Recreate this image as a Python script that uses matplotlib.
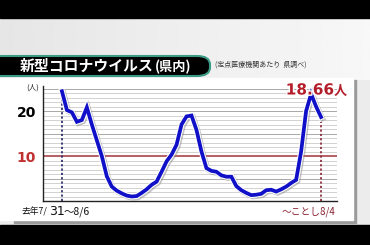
import numpy as np
import matplotlib
matplotlib.use("Agg")
import matplotlib.pyplot as plt
import matplotlib.patheffects as pe
from matplotlib.patches import Rectangle, FancyBboxPatch

plt.rcParams['font.family'] = ['Noto Sans CJK JP', 'DejaVu Sans']

## データ (定点医療機関あたり患者数, 週ごと)
semanas = np.arange(53)
valores = [24.4, 20.2, 19.7, 17.6, 18.0, 20.8, 17.0, 13.5, 10.0, 5.5,
           3.2, 2.3, 1.7, 1.2, 1.0, 1.1, 1.8, 2.6, 3.6, 4.3,
           6.5, 8.8, 10.3, 12.5, 17.0, 18.8, 19.0, 15.8, 11.0, 7.3,
           6.7, 6.5, 5.7, 5.4, 5.4, 3.3, 2.4, 1.8, 1.3, 1.4,
           1.6, 2.4, 2.5, 2.1, 2.6, 3.2, 4.0, 4.7, 11.0, 20.0,
           23.8, 21.0, 18.66]
yticks = [10, 20]
rotulo_fim = "～ことし8/4"
titulo = "新型コロナウイルス"
W, H = 370, 245


def fx(px):
    return px / W


def fy(py):
    return 1 - py / H


fig = plt.figure(figsize=(3.7, 2.45), dpi=100)
fig.patch.set_facecolor("#ececec")

## fundo (gradiente cinza claro)
grad = np.linspace(0.90, 0.97, 256).reshape(1, -1)
bg = fig.add_axes([0, fy(80), 1, 62 / H], zorder=-1)
bg.imshow(grad, cmap="gray", vmin=0, vmax=1, aspect="auto", extent=[0, 1, 0, 1])
bg.axis("off")

fig.patches.append(Rectangle((0, fy(18)), 1, 18 / H, transform=fig.transFigure, color="black", zorder=0))
fig.patches.append(Rectangle((0, 0), 1, 20 / H, transform=fig.transFigure, color="black", zorder=0))
# painel branco com sombra
fig.patches.append(Rectangle((fx(14), fy(223)), fx(342), 143 / H, transform=fig.transFigure, color="#9a9a9a", zorder=0.5))
fig.patches.append(Rectangle((fx(0), fy(220)), fx(353), 142 / H, transform=fig.transFigure, color="white", zorder=1))

## barra do titulo
fig.patches.append(FancyBboxPatch((fx(-20), fy(76)), fx(230), 20 / H, transform=fig.transFigure,
                                  boxstyle="round,pad=0,rounding_size=0.035", fc="black", ec="#3a9a86", lw=1.5, zorder=2))
fig.text(fx(20), fy(66), titulo, color="white", fontsize=10.7, fontweight="bold", va="center", ha="left", zorder=3)
fig.text(fx(155), fy(66.5), "(県内)", color="white", fontsize=9.5, fontweight="bold", va="center", ha="left", zorder=3)
fig.text(fx(215), fy(65), "(定点医療機関あたり  県調べ)", color="#333333", fontsize=5, va="center", ha="left")

## grafico
ax = fig.add_axes([fx(43), fy(201), fx(337 - 43), (201 - 86) / H])
ax.set_zorder(3)
ax.patch.set_alpha(0)
ax.set_xlim(-3.8, 55.2)
ax.set_ylim(0, 25.56)

for v in range(1, 26):
    if v == 10:
        continue
    cor = "#a8a8a8" if v % 5 == 0 else "#d2d2d2"
    ax.axhline(v, color=cor, lw=0.7, zorder=1)
ax.axhline(10, color="#b05058", lw=1.3, zorder=1.5)

ax.vlines(semanas[0], 0, valores[0] - 1, colors="#303070", linestyles=(0, (1.2, 1.2)), lw=1.3, zorder=2)
ax.vlines(semanas[-1], 0, valores[-1] - 1, colors="#903040", linestyles=(0, (1.2, 1.2)), lw=1.3, zorder=2)

ax.plot(semanas, valores, color="#1010c8", lw=2.7, solid_joinstyle="miter", zorder=4,
        path_effects=[pe.SimpleLineShadow(offset=(1, -1), shadow_color="#888888", alpha=0.5, linewidth=4),
                      pe.Stroke(linewidth=4.2, foreground="white"), pe.Normal()])

for s in ["top", "right"]:
    ax.spines[s].set_visible(False)
for s in ["left", "bottom"]:
    ax.spines[s].set_color("#222222")
    ax.spines[s].set_linewidth(1.0)
ax.set_xticks([])
ax.set_yticks(yticks)
ax.set_yticklabels([str(t) for t in yticks], fontsize=10, fontweight="bold", family="DejaVu Sans")
ax.tick_params(axis="y", length=0, pad=5)
ax.get_yticklabels()[0].set_color("#c03030")

fig.text(fx(26), fy(88), "(人)", fontsize=5.5, va="center", ha="left", color="#222222")

## rotulos
fig.text(fx(334), fy(90), "18.66", fontsize=11, color="#b41e2a", ha="right", va="center", fontweight="bold",
         family="DejaVu Sans", path_effects=[pe.withStroke(linewidth=2, foreground="white")], zorder=5)
fig.text(fx(334), fy(91), "人", fontsize=9.5, color="#b41e2a", ha="left", va="center", fontweight="bold",
         path_effects=[pe.withStroke(linewidth=2, foreground="white")], zorder=5)
fig.text(fx(22), fy(212), "去年7/", fontsize=6.3, va="center", ha="left", color="#111111")
fig.text(fx(49), fy(211.5), "31", fontsize=9, va="center", ha="left", color="#111111", family="DejaVu Sans")
fig.text(fx(64), fy(211.5), "～8/6", fontsize=7.5, va="center", ha="left", color="#111111")
fig.text(fx(282), fy(211.5), rotulo_fim, fontsize=7, va="center", ha="left", color="#8a2030")

fig.savefig("out.png", dpi=100, facecolor=fig.get_facecolor())
